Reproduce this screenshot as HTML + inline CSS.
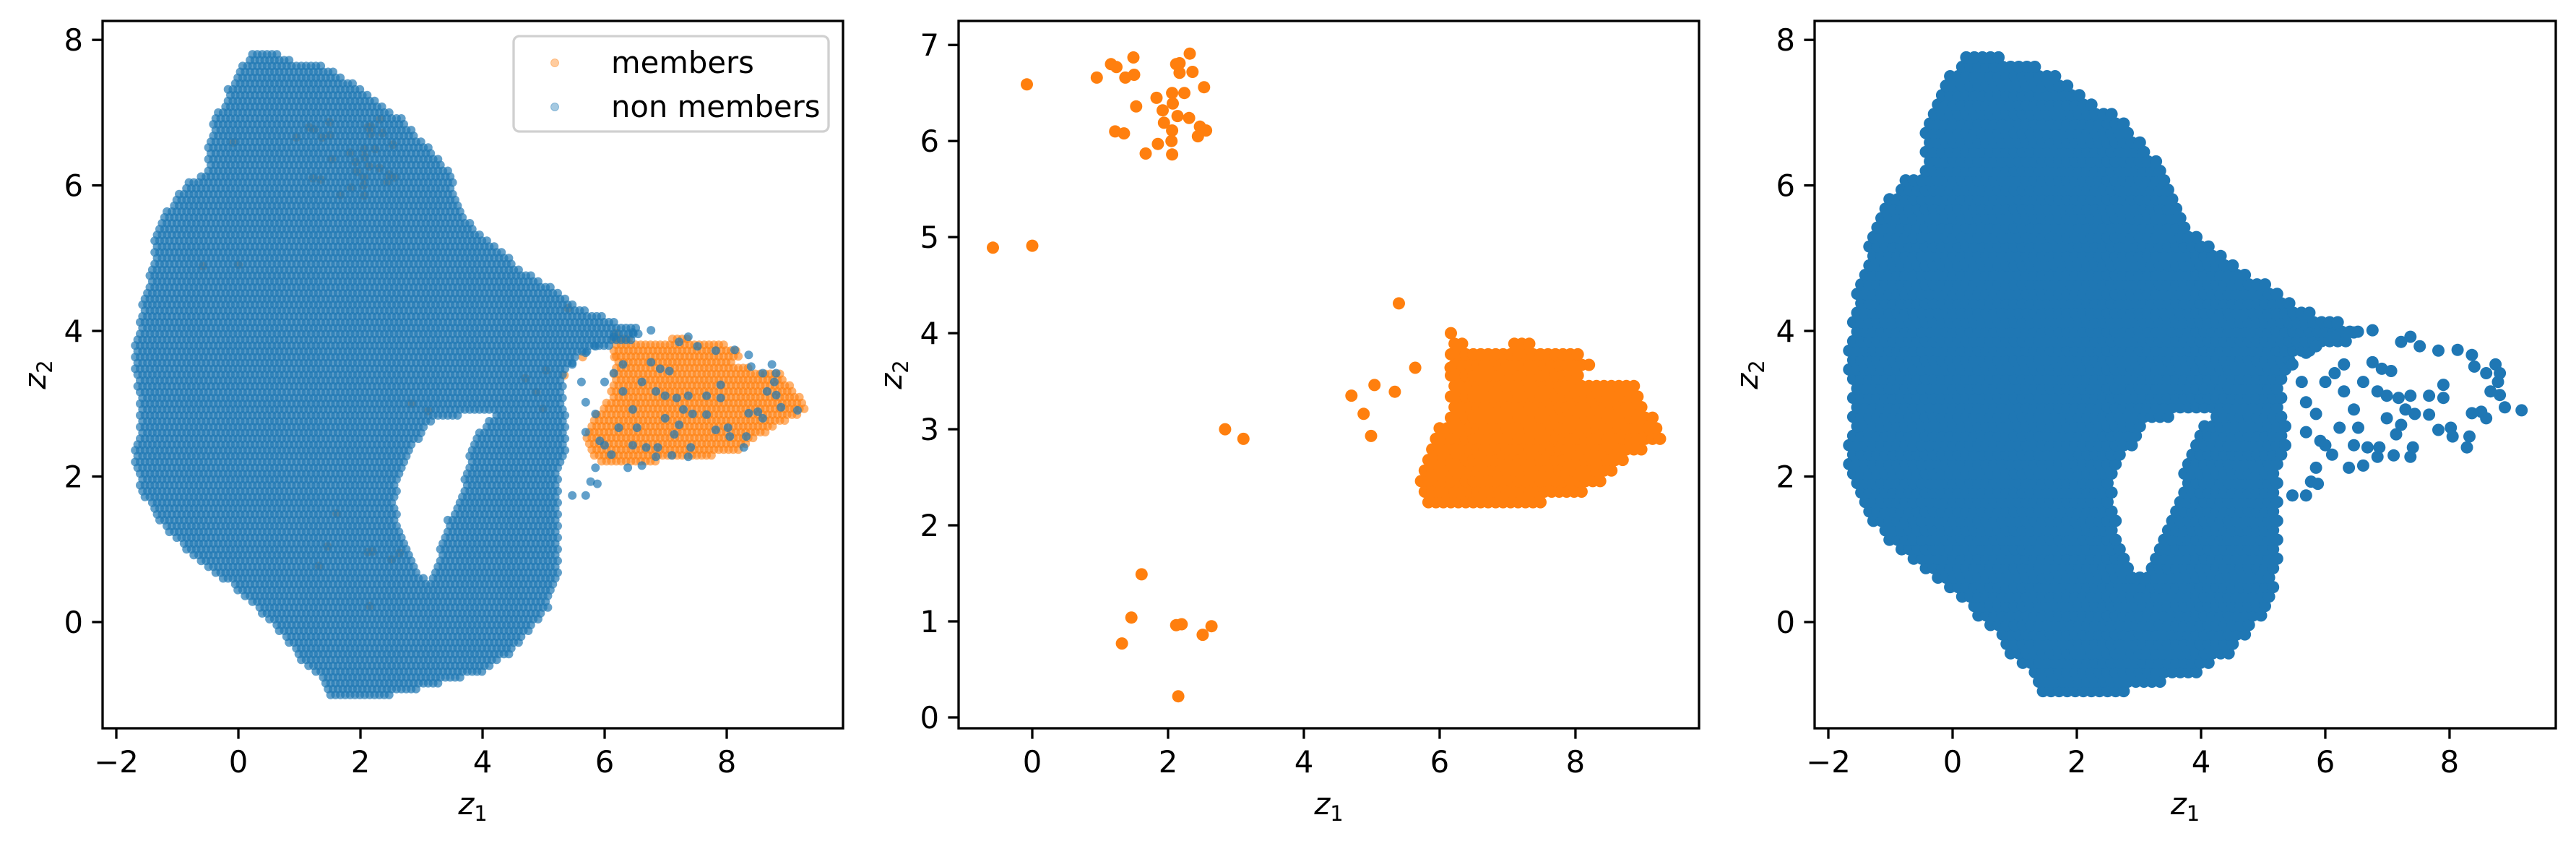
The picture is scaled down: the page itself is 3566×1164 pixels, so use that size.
<!DOCTYPE html>
<html><head><meta charset="utf-8">
<style>
html,body{margin:0;padding:0;background:#fff;}
svg{display:block;}
text{font-family:"DejaVu Sans","Liberation Sans",sans-serif;fill:#000;}
</style></head>
<body>
<svg id="fig" width="3566" height="1164" viewBox="0 0 3566 1164" xmlns="http://www.w3.org/2000/svg"></svg>
<script>
// ---------- data ----------
const bodyOutline = [[0.21,7.82],[0.52,7.87],[0.90,7.71],[1.43,7.64],[1.89,7.39],[2.35,7.11],[2.73,6.89],[3.18,6.46],[3.45,6.21],[3.64,5.71],[3.87,5.37],[4.32,5.09],[4.63,4.85],[5.08,4.63],[5.54,4.35],[6.07,4.16],[6.53,4.04],[6.61,3.92],[6.07,3.79],[5.54,3.67],[5.31,3.30],[5.39,2.67],[5.39,2.30],[5.24,2.05],[5.24,1.43],[5.24,0.69],[5.08,0.19],[4.86,-0.05],[4.48,-0.43],[3.94,-0.71],[3.11,-0.89],[2.42,-1.02],[1.96,-1.08],[1.43,-0.99],[1.36,-0.77],[0.98,-0.49],[0.67,-0.12],[0.29,0.19],[-0.09,0.50],[-0.55,0.75],[-0.93,1.06],[-1.38,1.43],[-1.61,1.87],[-1.73,2.24],[-1.61,2.67],[-1.65,3.17],[-1.73,3.67],[-1.65,4.04],[-1.54,4.54],[-1.42,4.85],[-1.38,5.22],[-1.23,5.59],[-1.08,5.78],[-0.85,6.03],[-0.47,6.21],[-0.51,6.46],[-0.39,6.92],[-0.24,7.14],[-0.17,7.33],[-0.01,7.58]];
const bodyHole = [[3.10,2.75],[3.72,2.86],[4.20,2.86],[3.95,2.60],[3.79,2.30],[3.64,1.74],[3.41,1.37],[3.26,0.88],[3.11,0.57],[2.85,0.80],[2.70,1.12],[2.58,1.56],[2.62,1.99],[2.85,2.36]];
const tailX = [5.47,5.69,5.85,6.15,6.46,6.76,7.22,7.37,7.52,7.82,8.13,8.36,8.74,8.81,8.59,8.40,8.78,8.66,8.81,8.89,9.16,8.51,8.59,8.36,7.90,7.90,7.67,7.37,7.18,6.99,6.84,7.29,7.44,7.67,7.82,8.02,8.05,8.28,8.32,7.22,7.14,7.41,7.37,7.10,6.84,6.61,6.38,6.11,5.85,5.77,5.69,5.47,5.88,6.00,6.46,6.68,6.87,5.85,5.69,5.62,6.00,6.15,6.30,6.76,6.91,7.06,6.46,6.53,6.23,5.69,5.92,6.30,6.61,6.99];
const tailY = [3.54,3.70,3.79,3.92,3.98,4.01,3.85,3.92,3.79,3.73,3.74,3.67,3.54,3.42,3.42,3.51,3.30,3.17,3.12,2.95,2.91,2.89,2.80,2.87,3.26,3.08,3.11,3.11,3.08,3.11,3.17,2.92,2.86,2.85,2.64,2.67,2.55,2.40,2.55,2.71,2.58,2.40,2.27,2.29,2.27,2.15,2.12,2.30,2.12,1.93,1.74,1.74,1.90,2.43,2.43,2.40,2.40,2.86,3.02,3.30,3.30,3.42,3.54,3.57,3.48,3.45,2.92,2.67,2.67,2.61,2.49,3.17,3.30,2.80];
const memberOutline = [[6.16,4.03],[6.44,3.86],[7.27,3.90],[7.90,3.86],[8.32,3.68],[8.04,3.54],[8.39,3.49],[8.87,3.47],[9.08,3.21],[9.36,2.95],[8.94,2.74],[8.66,2.62],[8.25,2.38],[7.90,2.31],[7.48,2.22],[7.06,2.24],[6.58,2.17],[6.16,2.13],[5.81,2.24],[5.67,2.55],[5.88,2.88],[6.09,3.11],[6.16,3.49],[6.12,3.86]];
const memberX = [-0.08,-0.58,0.00,0.95,1.16,1.24,1.49,1.37,1.50,2.12,2.17,2.32,2.36,2.17,2.53,1.83,2.06,2.24,1.53,2.07,1.92,2.14,1.94,2.31,2.47,2.56,2.44,2.06,1.22,1.35,2.05,1.85,1.67,2.06,5.40,5.64,6.16,5.04,5.34,4.70,4.88,4.99,2.84,3.11,1.61,1.46,1.32,2.12,2.20,2.64,2.51,2.15];
const memberY = [6.59,4.89,4.91,6.66,6.80,6.77,6.87,6.66,6.69,6.80,6.81,6.91,6.72,6.71,6.56,6.45,6.50,6.50,6.36,6.39,6.32,6.26,6.19,6.24,6.15,6.11,6.05,6.11,6.10,6.08,6.00,5.97,5.87,5.86,4.31,3.64,3.64,3.46,3.39,3.35,3.16,2.93,3.00,2.90,1.49,1.04,0.77,0.96,0.97,0.95,0.86,0.22];
const ticksLR = [-2,0,2,4,6,8];
const yticksLR = [0,2,4,6,8];
const ticksMidX = [0,2,4,6,8];
const ticksMidY = [0,1,2,3,4,5,6,7];
const legendLabels = ['members','non members'];

// ---------- helpers ----------
const NS='http://www.w3.org/2000/svg';
const svg=document.getElementById('fig');
function el(tag,attrs,parent){const e=document.createElementNS(NS,tag);for(const k in attrs)e.setAttribute(k,attrs[k]);(parent||svg).appendChild(e);return e;}
function inPoly(x,y,poly){let c=false;for(let i=0,j=poly.length-1;i<poly.length;j=i++){const xi=poly[i][0],yi=poly[i][1],xj=poly[j][0],yj=poly[j][1];if(((yi>y)!=(yj>y))&&(x<(xj-xi)*(y-yi)/(yj-yi)+xi))c=!c;}return c;}
function fillPoints(poly,hole,step){const xs=poly.map(p=>p[0]),ys=poly.map(p=>p[1]);const pts=[];let row=0;for(let y=Math.min(...ys);y<=Math.max(...ys);y+=step,row++){const off=(row%2)*step/2;for(let x=Math.min(...xs)+off;x<=Math.max(...xs);x+=step){if(inPoly(x,y,poly)&&!(hole&&inPoly(x,y,hole)))pts.push([x,y]);}}return pts;}

function makeAxes(name,L,R,T,B,xmin,xmax,ymin,ymax){
  const g=el('g',{});
  
  
  const sx=v=>L+(v-xmin)/(xmax-xmin)*(R-L);
  const sy=v=>B-(v-ymin)/(ymax-ymin)*(B-T);
  return {g,sx,sy,L,R,T,B};
}
function drawFrame(ax,xt,yt){
  const {g,sx,sy,L,R,T,B}=ax;
  xt.forEach(v=>{const x=sx(v);
    const t=el('line',{x1:x,x2:x,y1:B,y2:B+14.6,stroke:'#000','stroke-width':3.3},g);
    
    const tx=el('text',{x:x,y:1069,'text-anchor':'middle','font-size':41.7},g);
    
    tx.textContent=v<0?'\u2212'+(-v):String(v);});
  yt.forEach(v=>{const y=sy(v);
    const t=el('line',{x1:L-14.6,x2:L,y1:y,y2:y,stroke:'#000','stroke-width':3.3},g);
    
    const tx=el('text',{x:L-27,y:y+15,'text-anchor':'end','font-size':41.7},g);
    
    tx.textContent=v<0?'\u2212'+(-v):String(v);});
  const fr=el('rect',{x:L,y:T,width:R-L,height:B-T,fill:'none',stroke:'#000','stroke-width':3.3},g);
  
  const xl=el('text',{x:(L+R)/2,y:1127,'text-anchor':'middle','font-size':41.7,'font-style':'italic'},g);
  
  xl.innerHTML='z<tspan font-size="29" font-style="normal" dy="9">1</tspan>';
  const cy=(T+B)/2;
  const yl=el('text',{x:0,y:0,'text-anchor':'middle','font-size':41.7,'font-style':'italic',transform:`translate(${L-79},${cy}) rotate(-90)`},g);
  
  yl.innerHTML='z<tspan font-size="29" font-style="normal" dy="9">2</tspan>';
}
function scatter(ax,pts,r,color,op,name){
  const g=el('g',{},ax.g);
  
  pts.forEach(p=>{el('circle',{cx:ax.sx(p[0]).toFixed(1),cy:ax.sy(p[1]).toFixed(1),r:r,fill:color,'fill-opacity':op},g);});
}
const tailPts=tailX.map((x,i)=>[x,tailY[i]]);
const memberPts=memberX.map((x,i)=>[x,memberY[i]]);

// ---------- left panel ----------
const a1=makeAxes('panel-all-points',142,1167,29,1008,-2.225,9.905,-1.46,8.26);
scatter(a1,fillPoints(memberOutline,null,0.08).concat(memberPts),6,'#ff7f0e',0.6,'members-series');
scatter(a1,fillPoints(bodyOutline,bodyHole,0.08).concat(tailPts),6,'#1f77b4',0.7,'non-members-series');
drawFrame(a1,ticksLR,yticksLR);
// legend
const lg=el('g',{},a1.g);

el('rect',{x:711,y:50,width:436,height:132,rx:8,fill:'#fff','fill-opacity':0.8,stroke:'#d0d0d0','stroke-width':3.3},lg);
const legCols=['#ff7f0e','#1f77b4'];
legendLabels.forEach((lab,i)=>{
  const y=[87,148][i];
  const m=el('circle',{cx:768,cy:y,r:5.5,fill:legCols[i],'fill-opacity':0.4,stroke:legCols[i],'stroke-opacity':0.4},lg);
  
  const t=el('text',{x:846,y:y+14,'font-size':41.7},lg);
  
  t.textContent=lab;
});

// ---------- middle panel ----------
const a2=makeAxes('panel-members',1327,2352,29,1008,-1.085,9.82,-0.113,7.25);
scatter(a2,fillPoints(memberOutline,null,0.11).concat(memberPts),8.5,'#ff7f0e',1,'members-only-series');
drawFrame(a2,ticksMidX,ticksMidY);

// ---------- right panel ----------
const a3=makeAxes('panel-non-members',2512,3538,29,1008,-2.221,9.71,-1.46,8.26);
scatter(a3,fillPoints(bodyOutline,bodyHole,0.13).concat(tailPts),8.5,'#1f77b4',1,'non-members-only-series');
drawFrame(a3,ticksLR,yticksLR);
</script>
</body></html>
